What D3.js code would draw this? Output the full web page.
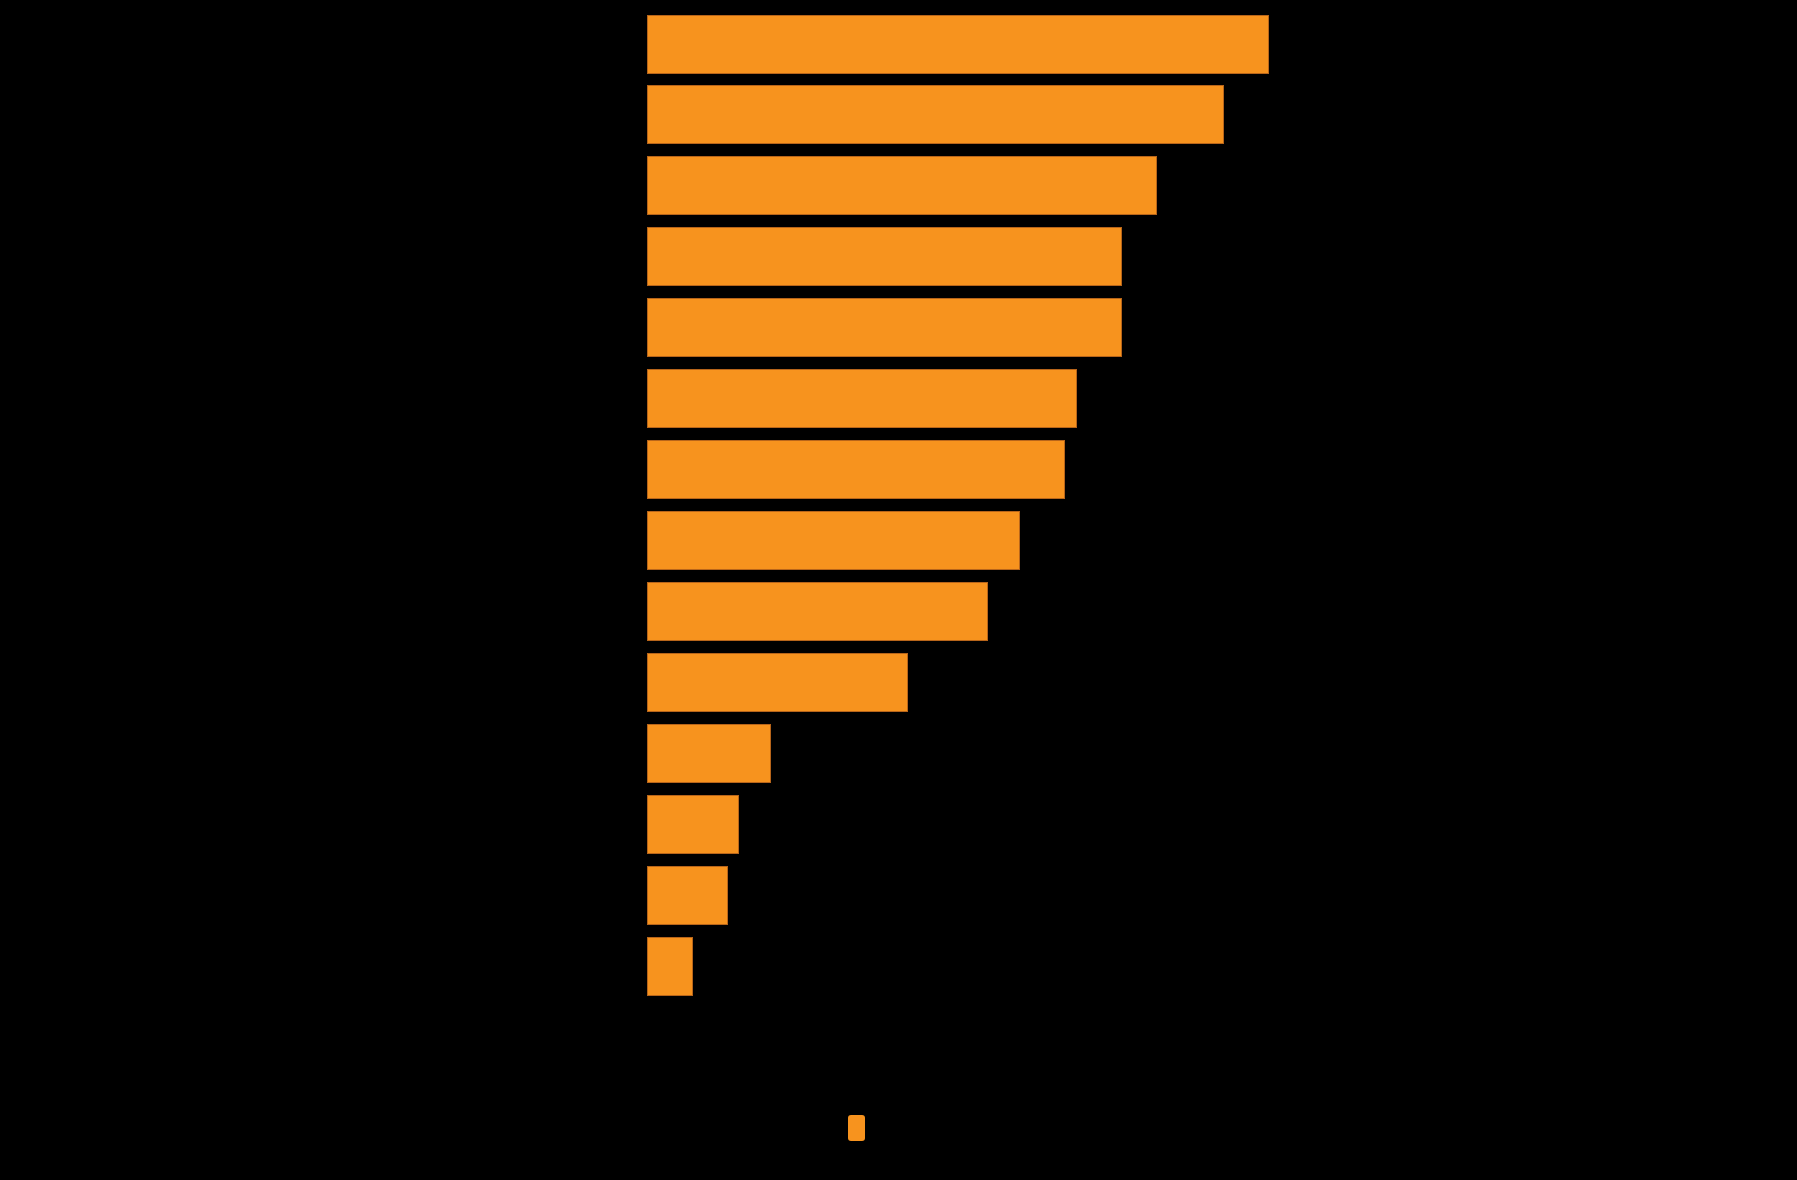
<!DOCTYPE html>
<html>
<head>
<meta charset="utf-8">
<script src="https://cdn.jsdelivr.net/npm/d3@7"></script>
<style>
  html, body { margin: 0; padding: 0; background: #000; }
  svg { display: block; }
</style>
</head>
<body>
<svg id="chart" width="1797" height="1180"></svg>
<script>
// Data (labels are not visible in the reference)
const categories = ["1", "2", "3", "4", "5", "6", "7", "8", "9", "10", "11", "12", "13", "14"];
const values = [59.2, 54.9, 48.5, 45.2, 45.2, 40.9, 39.8, 35.5, 32.4, 24.8, 11.8, 8.7, 7.7, 4.35];
const seriesName = [""];

const svg = d3.select("#chart");
svg.append("rect").attr("width", 1797).attr("height", 1180).attr("fill", "#000");

const x = d3.scaleLinear().domain([0, 100]).range([647, 1697]);
const y = d3.scaleBand().domain(categories).range([15, 995.3]).paddingInner(0.182).paddingOuter(0);

const fill = "#F7931E";
const stroke = "#b8651a";

svg.append("g")
  .selectAll("rect")
  .data(values)
  .join("rect")
  .attr("x", x(0))
  .attr("y", (d, i) => y(categories[i]))
  .attr("width", d => x(d) - x(0))
  .attr("height", y.bandwidth())
  .attr("fill", fill)
  .attr("stroke", stroke)
  .attr("stroke-width", 1)
  .attr("shape-rendering", "crispEdges");

// legend
const legend = svg.append("g").attr("transform", "translate(848,1115)");
legend.selectAll("rect")
  .data(seriesName)
  .join("rect")
  .attr("width", 17)
  .attr("height", 26)
  .attr("rx", 3)
  .attr("fill", fill);
</script>
</body>
</html>
